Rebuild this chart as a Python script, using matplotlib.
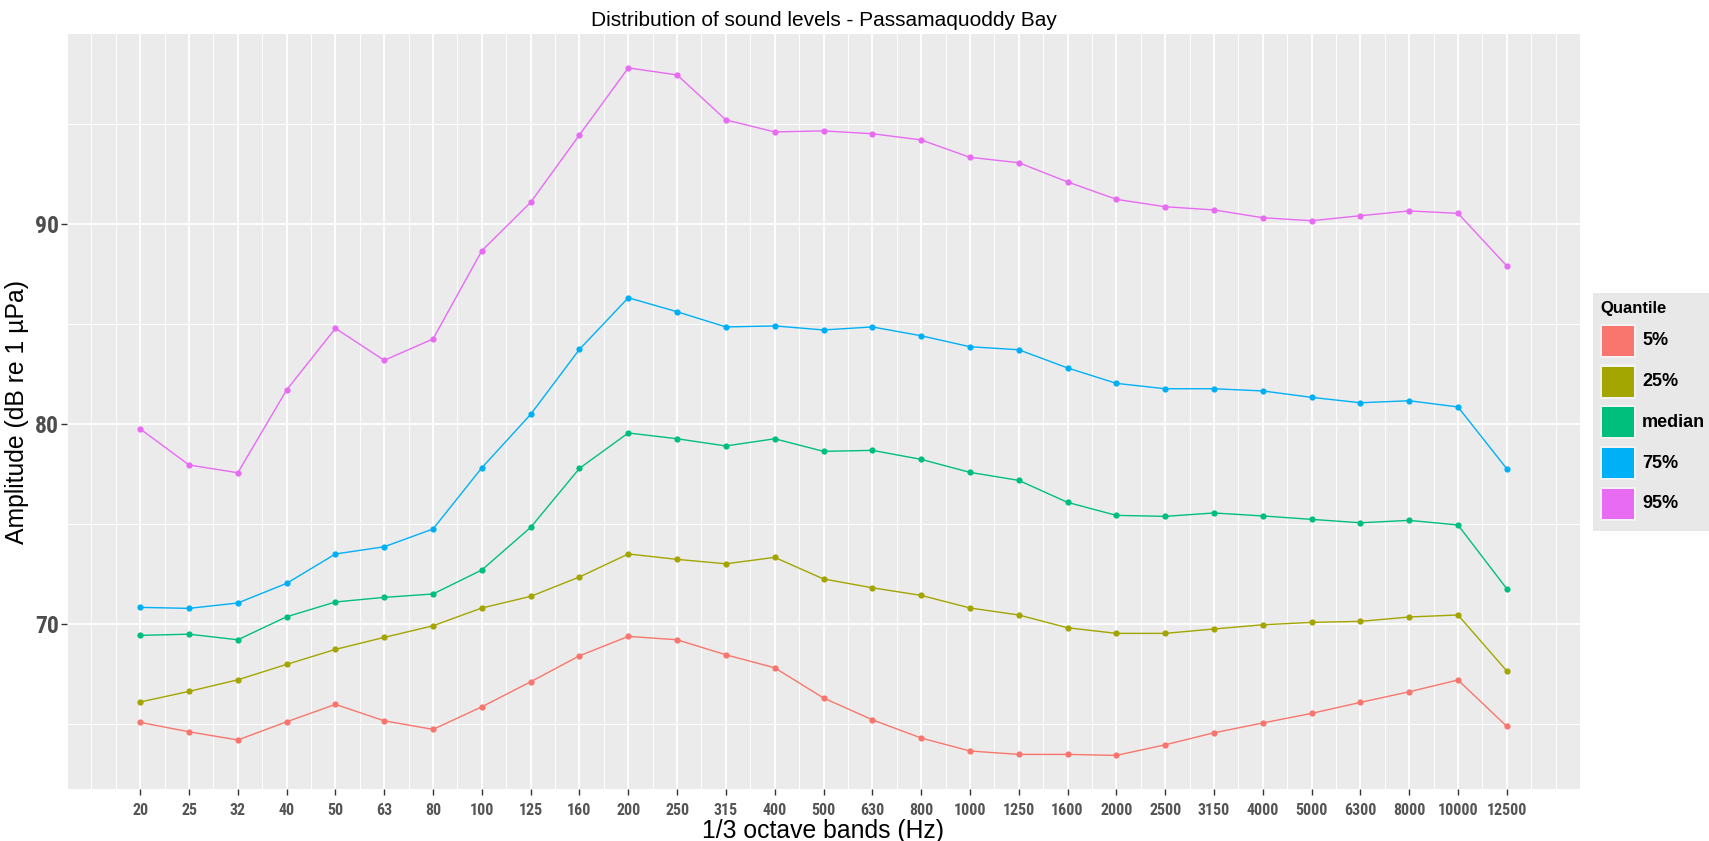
import matplotlib
matplotlib.use("Agg")
import matplotlib.pyplot as plt
from matplotlib import font_manager
from matplotlib.patches import Rectangle
import numpy as np

bands = ["20", "25", "32", "40", "50", "63", "80", "100", "125", "160", "200", "250",
         "315", "400", "500", "630", "800", "1000", "1250", "1600", "2000", "2500",
         "3150", "4000", "5000", "6300", "8000", "10000", "12500"]

q05 = [65.06, 64.59, 64.18, 65.09, 65.96, 65.14, 64.71, 65.84, 67.09, 68.39, 69.36, 69.19,
       68.44, 67.79, 66.28, 65.19, 64.28, 63.63, 63.46, 63.46, 63.41, 63.94,
       64.54, 65.03, 65.51, 66.06, 66.59, 67.18, 64.86]
q25 = [66.08, 66.61, 67.19, 67.96, 68.71, 69.31, 69.89, 70.78, 71.36, 72.33, 73.48, 73.21,
       72.99, 73.31, 72.23, 71.79, 71.41, 70.78, 70.43, 69.79, 69.51, 69.51,
       69.73, 69.94, 70.06, 70.11, 70.33, 70.43, 67.63]
q50 = [69.41, 69.47, 69.19, 70.34, 71.08, 71.31, 71.48, 72.68, 74.81, 77.76, 79.53, 79.24,
       78.88, 79.24, 78.61, 78.66, 78.21, 77.56, 77.16, 76.06, 75.41, 75.36,
       75.53, 75.38, 75.21, 75.04, 75.16, 74.93, 71.74]
q75 = [70.81, 70.76, 71.03, 72.01, 73.48, 73.84, 74.73, 77.79, 80.46, 83.71, 86.29, 85.59,
       84.83, 84.88, 84.68, 84.83, 84.39, 83.84, 83.69, 82.78, 82.01, 81.74,
       81.74, 81.63, 81.31, 81.04, 81.14, 80.83, 77.74]
q95 = [79.73, 77.93, 77.54, 81.68, 84.76, 83.16, 84.23, 88.64, 91.06, 94.43, 97.78, 97.43,
       95.18, 94.58, 94.63, 94.49, 94.18, 93.31, 93.04, 92.08, 91.21, 90.84,
       90.68, 90.29, 90.14, 90.39, 90.63, 90.51, 87.88]

series_names = ["5%", "25%", "median", "75%", "95%"]
series_values = [q05, q25, q50, q75, q95]
colors = ["#F8766D", "#A3A500", "#00BF7D", "#00B0F6", "#E76BF3"]

names = {f.name for f in font_manager.fontManager.ttflist}
narrow = None
for cand in ["Liberation Sans Narrow", "Roboto Condensed", "DejaVu Sans Condensed"]:
    if cand in names:
        narrow = cand
        break
if narrow is None:
    narrow = "Liberation Sans"
main_font = "Liberation Sans" if "Liberation Sans" in names else "DejaVu Sans"

W, H = 1709, 841
fig = plt.figure(figsize=(W / 100, H / 100), dpi=100)
fig.patch.set_facecolor("white")

left, right, top, bottom = 67, 1580, 34.3, 789
ax = fig.add_axes([left / W, 1 - bottom / H, (right - left) / W, (bottom - top) / H])
ax.set_facecolor("#EBEBEB")
for s in ax.spines.values():
    s.set_visible(False)

x = np.arange(len(bands))
ax.set_xlim(-1.42, len(bands) - 1 + 1.41)
ax.set_ylim(61.73, 99.46)

ax.set_xticks(x)
ax.set_xticklabels(bands)
minor_x = [v for v in np.arange(-1.5, len(bands) + 0.6, 0.5) if v not in set(x)]
ax.set_xticks(minor_x, minor=True)
ax.set_yticks([70, 80, 90])
ax.set_yticks([65, 75, 85, 95], minor=True)

ax.grid(which="major", color="white", linewidth=1.3)
ax.grid(which="minor", color="white", linewidth=0.7)
ax.set_axisbelow(True)
ax.tick_params(which="minor", length=0)
ax.tick_params(which="major", length=4, width=1, color="#333333")
ax.tick_params(axis="x", pad=6)
ax.tick_params(axis="y", pad=2)

for lbl in ax.get_xticklabels():
    lbl.set_fontfamily(narrow)
    lbl.set_fontweight("bold")
    lbl.set_fontsize(11.5)
    lbl.set_color("#555555")
for lbl in ax.get_yticklabels():
    lbl.set_fontfamily(narrow)
    lbl.set_fontweight("bold")
    lbl.set_fontsize(17)
    lbl.set_color("#4D4D4D")

for name, vals, c in zip(series_names, series_values, colors):
    ax.plot(x, vals, color=c, linewidth=1.0, marker="o", markersize=4.5,
            markeredgewidth=0, label=name)

ax.set_title("Distribution of sound levels - Passamaquoddy Bay", fontsize=15,
             family=main_font, pad=6)
ax.set_xlabel("1/3 octave bands (Hz)", fontsize=17.8, family=main_font, labelpad=1)
ax.set_ylabel("Amplitude (dB re 1 \u00b5Pa)", fontsize=17.8, family=main_font, labelpad=4)

# legend drawn in figure pixel coordinates (ggplot-style)
def fx(px):
    return px / W
def fy(py):
    return 1 - py / H

fig.patches.append(Rectangle((fx(1593), fy(531)), fx(1709) - fx(1593), fy(293) - fy(531),
                             transform=fig.transFigure, facecolor="#E8E8E8",
                             edgecolor="none", zorder=1))
fig.text(fx(1600), fy(309), "Quantile", fontsize=12, fontweight="bold",
         family=main_font, va="center", ha="left")
key_y = [340.7, 381.5, 422.3, 463.1, 504.0]
for name, c, ky in zip(series_names, colors, key_y):
    fig.patches.append(Rectangle((fx(1600), fy(ky + 17)), fx(1636) - fx(1600),
                                 fy(ky - 17) - fy(ky + 17), transform=fig.transFigure,
                                 facecolor="#F2F2F2", edgecolor="none", zorder=2))
    fig.patches.append(Rectangle((fx(1602), fy(ky + 15)), fx(1634) - fx(1602),
                                 fy(ky - 15) - fy(ky + 15), transform=fig.transFigure,
                                 facecolor=c, edgecolor="none", zorder=3))
    fig.text(fx(1642), fy(ky), name, fontsize=13, fontweight="bold",
             family=main_font, va="center", ha="left")

fig.savefig("out.png", dpi=100)
